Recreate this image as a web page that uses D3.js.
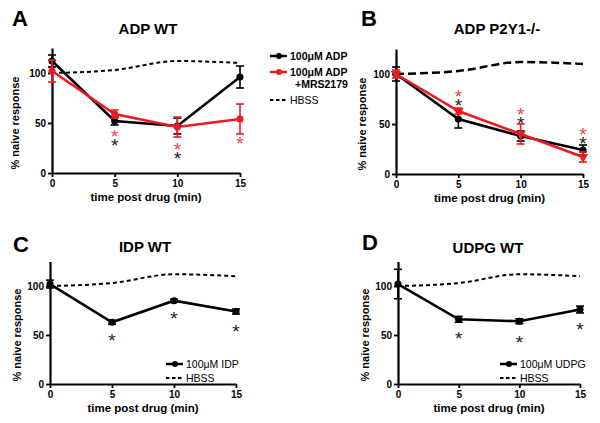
<!DOCTYPE html>
<html>
<head>
<meta charset="utf-8">
<script src="https://cdn.jsdelivr.net/npm/d3@7"></script>
<style>
body { margin: 0; background: #fff; }
text { font-family: "Liberation Sans", Arial, sans-serif; }
</style>
</head>
<body>
<script>
var width = 600, height = 423;

// data
var times = [0, 5, 10, 15];
var hbss = [100, 103, 112, 110];

var adpWT = [112, 52, 47, 96], adpWTErr = [6, 4, 8, 11];
var adpMrsWT = [102, 59, 46, 54], adpMrsWTErr = [11, 4, 10, 15];

var adpKO = [100, 55, 38, 24], adpKOErr = [7, 9, 5, 5];
var adpMrsKO = [100, 63, 40, 17], adpMrsKOErr = [4, 3, 10, 5];

var idp = [102, 63, 85, 74], idpErr = [4, 2, 1.5, 2.5];
var udpg = [102, 66, 64, 76], udpgErr = [15, 3, 2.5, 3.5];

// significance stars: [time, value position]
var starsA_black = [[5, 32], [10, 19]];
var starsA_red = [[5, 41], [10, 28], [15, 34]];
var starsB_black = [[5, 73], [10, 55], [15, 35]];
var starsB_red = [[5, 82], [10, 64], [15, 44]];
var starsC = [[5, 49], [10, 71], [15, 58]];
var starsD = [[5, 51], [10, 47], [15, 60]];

var yTicks = [0, 50, 100];
var xTicks = [0, 5, 10, 15];

var RED = "#ec1c24";

var svg = d3.select("body").append("svg")
    .attr("width", width)
    .attr("height", height);

function panel(cfg) {
    var x = d3.scaleLinear().domain([0, 15]).range([cfg.x0, cfg.x1]);
    var pxPerUnit = (cfg.y0 - cfg.y100) / 100;
    var y = d3.scaleLinear().domain([0, 125]).range([cfg.y0, cfg.y0 - 125 * pxPerUnit]);
    var g = svg.append("g");

    // letter + title
    g.append("text").attr("x", cfg.letterX).attr("y", cfg.letterY)
        .attr("font-size", 22).attr("font-weight", "bold").text(cfg.letter);
    g.append("text").attr("x", cfg.titleX).attr("y", cfg.titleY)
        .attr("text-anchor", "middle").attr("font-size", 15).attr("font-weight", "bold")
        .text(cfg.title);

    // axes
    var ax = g.append("g").attr("transform", "translate(0," + cfg.y0 + ")")
        .call(d3.axisBottom(x).tickValues(xTicks).tickSize(4).tickSizeOuter(0).tickPadding(3));
    var ay = g.append("g").attr("transform", "translate(" + cfg.x0 + ",0)")
        .call(d3.axisLeft(y).tickValues(yTicks).tickSize(4).tickSizeOuter(0).tickPadding(2));
    [ax, ay].forEach(function(a) {
        a.select(".domain").attr("stroke-width", 2.2);
        a.selectAll(".tick line").attr("stroke-width", 1.8);
        a.selectAll(".tick text").attr("font-size", 10).attr("font-weight", "bold")
            .attr("font-family", "Liberation Sans, Arial, sans-serif").attr("fill", "#000");
    });

    g.append("text").attr("x", (cfg.x0 + cfg.x1) / 2).attr("y", cfg.y0 + 28)
        .attr("text-anchor", "middle").attr("font-size", 11.5).attr("font-weight", "bold")
        .text("time post drug (min)");
    g.append("text")
        .attr("transform", "translate(" + cfg.yLabelX + "," + (cfg.y0 - 50 * pxPerUnit) + ")rotate(-90)")
        .attr("text-anchor", "middle").attr("font-size", 11).attr("font-weight", "bold")
        .text("% naive response");

    // HBSS dashed
    g.append("path")
        .datum(hbss)
        .attr("d", d3.line().x(function(d, i) { return x(times[i]); }).y(function(d) { return y(d); })
            .curve(d3.curveMonotoneX))
        .attr("fill", "none").attr("stroke", "#000")
        .attr("stroke-width", cfg.hbssWidth).attr("stroke-dasharray", cfg.hbssDash);

    cfg.series.forEach(function(s) {
        var sg = g.append("g");
        sg.append("path").datum(s.values)
            .attr("d", d3.line().x(function(d, i) { return x(times[i]); }).y(function(d) { return y(d); }))
            .attr("fill", "none").attr("stroke", s.color).attr("stroke-width", 2.6);
        var eb = sg.selectAll(".eb").data(s.values).enter().append("g");
        eb.append("line")
            .attr("x1", function(d, i) { return x(times[i]); })
            .attr("x2", function(d, i) { return x(times[i]); })
            .attr("y1", function(d, i) { return y(d + s.err[i]); })
            .attr("y2", function(d, i) { return y(d - s.err[i]); })
            .attr("stroke", s.color).attr("stroke-width", 1.6);
        [1, -1].forEach(function(sign) {
            eb.append("line")
                .attr("x1", function(d, i) { return x(times[i]) - 4; })
                .attr("x2", function(d, i) { return x(times[i]) + 4; })
                .attr("y1", function(d, i) { return y(d + sign * s.err[i]); })
                .attr("y2", function(d, i) { return y(d + sign * s.err[i]); })
                .attr("stroke", s.color).attr("stroke-width", 1.6);
        });
        sg.selectAll(".pt").data(s.values).enter().append("path")
            .attr("transform", function(d, i) { return "translate(" + x(times[i]) + "," + y(d) + ")" + (s.tri ? "rotate(180)" : ""); })
            .attr("d", d3.symbol().type(s.tri ? d3.symbolTriangle : d3.symbolCircle).size(s.tri ? 45 : 40))
            .attr("fill", s.color);
    });

    // significance asterisks (stacked ones overlap slightly, as in the original)
    cfg.stars.forEach(function(st) {
        g.selectAll(null).data(st.pts).enter().append("text")
            .attr("x", function(d) { return x(d[0]); })
            .attr("y", function(d) { return y(d[1]); })
            .attr("dy", "0.58em")
            .attr("text-anchor", "middle").attr("font-size", 19)
            .attr("font-family", "DejaVu Sans, sans-serif")
            .attr("fill", st.color).text("*");
    });

    // legend
    var lg = g.append("g");
    cfg.legend.forEach(function(l) {
        if (l.line) {
            lg.append("line").attr("x1", l.x).attr("x2", l.x + 17).attr("y1", l.y).attr("y2", l.y)
                .attr("stroke", l.color).attr("stroke-width", l.dash ? 2 : 2.5)
                .attr("stroke-dasharray", l.dash ? "3.5,2.5" : null);
            if (!l.dash) {
                lg.append("circle").attr("cx", l.x + 9).attr("cy", l.y).attr("r", 3).attr("fill", l.color);
            }
        }
        lg.append("text").attr("x", l.x + 20).attr("y", l.y + 4)
            .attr("font-size", 10.5).attr("font-weight", l.bold ? "bold" : "normal").text(l.text);
    });
}

panel({
    letter: "A", letterX: 12, letterY: 26, title: "ADP WT", titleX: 148, titleY: 34,
    x0: 52, x1: 240, y0: 173, y100: 73, yLabelX: 19,
    hbssWidth: 2, hbssDash: "4,3",
    series: [
        { values: adpWT, err: adpWTErr, color: "#000" },
        { values: adpMrsWT, err: adpMrsWTErr, color: RED }
    ],
    stars: [{ pts: starsA_black, color: "#222" }, { pts: starsA_red, color: "#f0464a" }],
    legend: [
        { line: true, x: 270, y: 56, color: "#000", text: "100μM ADP", bold: true },
        { line: true, x: 270, y: 72, color: RED, text: "100μM ADP", bold: true },
        { line: false, x: 275, y: 84, text: "+MRS2179", bold: true },
        { line: true, dash: true, x: 270, y: 100, color: "#000", text: "HBSS", bold: false }
    ]
});

panel({
    letter: "B", letterX: 361, letterY: 26, title: "ADP P2Y1-/-", titleX: 497, titleY: 34,
    x0: 396, x1: 583, y0: 174, y100: 74, yLabelX: 366,
    hbssWidth: 2.5, hbssDash: "8,4",
    series: [
        { values: adpKO, err: adpKOErr, color: "#000" },
        { values: adpMrsKO, err: adpMrsKOErr, color: RED, tri: true }
    ],
    stars: [{ pts: starsB_black, color: "#222" }, { pts: starsB_red, color: "#f0464a" }],
    legend: []
});

panel({
    letter: "C", letterX: 13, letterY: 252, title: "IDP WT", titleX: 145, titleY: 252,
    x0: 50, x1: 236, y0: 384, y100: 286, yLabelX: 21,
    hbssWidth: 2, hbssDash: "4,3",
    series: [{ values: idp, err: idpErr, color: "#000" }],
    stars: [{ pts: starsC, color: "#222" }],
    legend: [
        { line: true, x: 166, y: 364, color: "#000", text: "100μM IDP" },
        { line: true, dash: true, x: 166, y: 378, color: "#000", text: "HBSS" }
    ]
});

panel({
    letter: "D", letterX: 362, letterY: 250, title: "UDPG WT", titleX: 488, titleY: 253,
    x0: 398, x1: 580, y0: 384, y100: 286, yLabelX: 369,
    hbssWidth: 2, hbssDash: "4,3",
    series: [{ values: udpg, err: udpgErr, color: "#000" }],
    stars: [{ pts: starsD, color: "#222" }],
    legend: [
        { line: true, x: 500, y: 364, color: "#000", text: "100μM UDPG" },
        { line: true, dash: true, x: 500, y: 378, color: "#000", text: "HBSS" }
    ]
});
</script>
</body>
</html>
